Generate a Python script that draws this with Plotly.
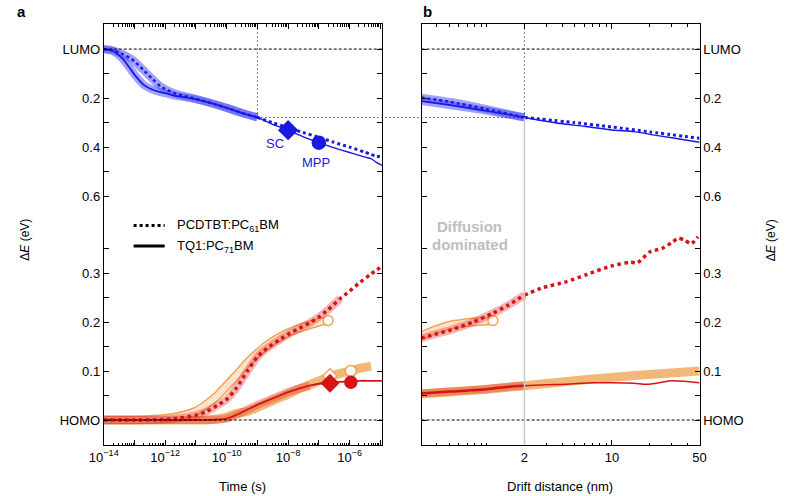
import math
import plotly.graph_objects as go

# ---------------- data ----------------
# Panel a: electrons (energy below LUMO), diffusion-dominated part (t <= 1 ns)
t_e_thick = [1e-14, 2e-14, 4e-14, 7e-14, 1e-13, 2e-13, 4e-13, 7e-13, 1e-12, 2e-12,
             4e-12, 1e-11, 3e-11, 1e-10, 3e-10, 1e-9]
dEe_pcdtbt_thick = [0.0, 0.005, 0.02, 0.036, 0.05, 0.087, 0.124, 0.152, 0.163, 0.180,
                    0.191, 0.203, 0.22, 0.24, 0.26, 0.279]
dEe_tq1_thick = [0.0, 0.008, 0.038, 0.077, 0.104, 0.146, 0.166, 0.176, 0.18, 0.19,
                 0.196, 0.205, 0.22, 0.24, 0.26, 0.279]
# Panel a: electrons, drift part (t >= 1 ns)
t_e_thin = [1e-9, 3e-9, 1e-8, 3e-8, 1e-7, 3e-7, 1e-6, 3e-6, 5e-6, 7e-6, 1.2e-5]
dEe_pcdtbt_thin = [0.279, 0.30, 0.32, 0.34, 0.36, 0.38, 0.40, 0.42, 0.43, 0.436, 0.442]
dEe_tq1_thin = [0.279, 0.306, 0.331, 0.357, 0.382, 0.402, 0.422, 0.44, 0.447, 0.46, 0.476]
t_e_sc, dEe_sc = 1e-8, 0.331
t_e_mpp, dEe_mpp = 1e-7, 0.382

# Panel a: holes (energy above HOMO)
t_h = [1e-14, 1e-13, 1e-12, 3e-12, 1e-11, 2e-11, 5e-11, 1e-10, 2e-10, 5e-10, 1e-9, 2e-9,
       5e-9, 1e-8, 2e-8, 5e-8, 1e-7, 2e-7, 5e-7, 1e-6, 2e-6, 5e-6, 1.2e-5]
dEh_pcdtbt = [0, 0, 0.001, 0.004, 0.01, 0.016, 0.03, 0.042, 0.064, 0.102, 0.129, 0.146,
              0.163, 0.175, 0.185, 0.198, 0.21, 0.225, 0.248, 0.263, 0.279, 0.298, 0.315]
dEh_tq1 = [0, 0, 0, 0, 0, 0, 0.001, 0.003, 0.01, 0.022, 0.031, 0.039, 0.049, 0.057, 0.063,
           0.07, 0.074, 0.076, 0.078, 0.078, 0.08, 0.08, 0.08]
dEh_pcdtbt_model = [0, 0, 0.003, 0.008, 0.018, 0.03, 0.05, 0.07, 0.09, 0.118, 0.136, 0.152,
                    0.168, 0.178, 0.186, 0.194, 0.2, 0.203]
dEh_tq1_model = [0, 0, 0, 0, 0, 0, 0.002, 0.006, 0.013, 0.018, 0.026, 0.034, 0.045, 0.053,
                 0.062, 0.072, 0.08, 0.088, 0.095, 0.1, 0.105, 0.11]
n_halo_pcdtbt = 19   # thick part of red dotted (up to 5e-7 s)
n_halo_tq1 = 16      # thick part of red solid (up to 5e-8 s)
t_h_sc, dEh_sc, dEh_sc_model = 2.3e-7, 0.075, 0.09
t_h_mpp, dEh_mpp, dEh_mpp_model = 1.1e-6, 0.077, 0.10

# Panel b: electrons vs drift distance (nm)
d_e_thick = [0.3, 0.5, 1, 2]
dEe_b_pcdtbt_thick = [0.198, 0.215, 0.245, 0.279]
dEe_b_tq1_thick = [0.212, 0.228, 0.252, 0.279]
d_e_pcdtbt_thin = [2, 5, 10, 20, 50]
dEe_b_pcdtbt_thin = [0.279, 0.30, 0.318, 0.338, 0.364]
d_e_tq1_thin = [2, 4, 6, 10, 15, 20, 30, 50]
dEe_b_tq1_thin = [0.279, 0.305, 0.315, 0.33, 0.337, 0.348, 0.362, 0.38]

# Panel b: holes vs drift distance (nm)
d_h_pcdtbt_thick = [0.3, 0.4, 0.52, 0.78, 1.12, 1.5, 2]
dEh_b_pcdtbt_thick = [0.167, 0.176, 0.184, 0.2, 0.218, 0.235, 0.255]
d_h_pcdtbt_thin = [2, 2.8, 4.3, 6.3, 9.8, 14, 16, 20, 25, 30, 34, 38, 43, 48.5]
dEh_b_pcdtbt_thin = [0.255, 0.27, 0.282, 0.297, 0.314, 0.322, 0.321, 0.343, 0.35, 0.362,
                     0.371, 0.367, 0.36, 0.374]
d_h_pcdtbt_model = [0.3, 0.4, 0.52, 0.78, 1.12]
dEh_b_pcdtbt_model = [0.172, 0.185, 0.194, 0.2, 0.203]
d_h_tq1_thick = [0.3, 0.5, 1, 1.5, 2]
dEh_b_tq1_thick = [0.054, 0.058, 0.063, 0.068, 0.07]
d_h_tq1_thin = [2, 3, 4.3, 7, 10, 15, 19, 25, 30, 38, 50]
dEh_b_tq1_thin = [0.07, 0.072, 0.073, 0.076, 0.076, 0.075, 0.073, 0.077, 0.08, 0.079, 0.076]
d_h_tq1_model = [0.3, 0.5, 1, 2, 5, 10, 20, 50]
dEh_b_tq1_model = [0.053, 0.057, 0.063, 0.07, 0.08, 0.087, 0.093, 0.1]

# axis ticks
e_tick_vals = [0.0, 0.2, 0.4, 0.6]
e_tick_text = ["LUMO", "0.2", "0.4", "0.6"]
e_minor = [0.1, 0.3, 0.5]
h_tick_vals = [0.0, 0.1, 0.2, 0.3]
h_tick_text = ["HOMO", "0.1", "0.2", "0.3"]
h_minor = [0.05, 0.15, 0.25, 0.35]
time_decades = [1e-14, 1e-13, 1e-12, 1e-11, 1e-10, 1e-9, 1e-8, 1e-7, 1e-6, 1e-5]
time_labels = ["10<sup>−14</sup>", " ", "10<sup>−12</sup>", " ", "10<sup>−10</sup>", " ",
               "10<sup>−8</sup>", " ", "10<sup>−6</sup>", " "]
dist_ticks = [2, 10, 50]
dist_labels = ["2", "10", "50"]
dist_minor = [0.4, 0.5, 0.6, 0.7, 0.8, 0.9, 1, 3, 4, 5, 6, 7, 8, 9, 20, 30, 40]

# ---------------- geometry / styling ----------------
W, H = 788, 496
PX_A = (91.3, 378.0)
PX_B = (418.3, 704.3)
PX_TOP, PX_BOT = 24.0, 445.0
LUMO_Y = 0.757          # broken axis: electron scale is half the hole scale
XR_A = [-14, -4.93]
XR_B = [-0.52, 1.70]
Y_RANGE = [-0.051, 0.8082]
FONT = "Liberation Sans, Arial, Helvetica, sans-serif"

BLUE = "rgb(25,25,225)"
BLUE_HALO = "rgba(70,70,250,0.5)"
RED = "rgb(215,20,20)"
RED_HALO = "rgba(225,40,40,0.35)"
ORANGE = "rgb(238,165,85)"
ORANGE_BAND = "rgba(238,160,75,0.75)"


def ye(vals):
    return [LUMO_Y - v / 2 for v in vals]


def px_paper_x(px):
    return px / W


def px_paper_y(px):
    return (H - px) / H


def frac(v, rng):
    return (math.log10(v) - rng[0]) / (rng[1] - rng[0])


fig = go.Figure()


def line(x, y, color, width, dash="solid", xa="x", ya="y"):
    fig.add_trace(go.Scatter(x=x, y=y, mode="lines", xaxis=xa, yaxis=ya,
                             line=dict(color=color, width=width, dash=dash, shape="spline",
                                       smoothing=0.6),
                             hoverinfo="skip", showlegend=False))


def marker(x, y, symbol, size, fill, edge, xa="x", ya="y", lw=1.5):
    fig.add_trace(go.Scatter(x=x, y=y, mode="markers", xaxis=xa, yaxis=ya,
                             marker=dict(symbol=symbol, size=size, color=fill,
                                         line=dict(color=edge, width=lw)),
                             hoverinfo="skip", showlegend=False))


# ---------- panel a ----------
# hole models (orange)
line(t_h[:len(dEh_tq1_model)], dEh_tq1_model, ORANGE_BAND, 9)
line(t_h[:len(dEh_pcdtbt_model)], dEh_pcdtbt_model, ORANGE, 9)
line(t_h[:len(dEh_pcdtbt_model)], dEh_pcdtbt_model, "rgba(255,255,255,0.7)", 6)
marker([t_h[len(dEh_pcdtbt_model) - 1]], [dEh_pcdtbt_model[-1]], "circle", 10, "white", ORANGE)
# holes (red)
line(t_h[:n_halo_tq1], dEh_tq1[:n_halo_tq1], RED_HALO, 8)
line(t_h[:n_halo_pcdtbt], dEh_pcdtbt[:n_halo_pcdtbt], RED_HALO, 8)
line(t_h, dEh_tq1, RED, 1.8)
line(t_h, dEh_pcdtbt, RED, 3.5, "dot")
marker([t_h_sc], [dEh_sc_model], "diamond", 11, "white", ORANGE)
marker([t_h_mpp], [dEh_mpp_model], "circle", 11, "white", ORANGE)
marker([t_h_sc], [dEh_sc], "diamond", 13, RED, RED)
marker([t_h_mpp], [dEh_mpp], "circle", 12, RED, RED)
# electrons (blue)
line(t_e_thick, ye(dEe_tq1_thick), BLUE_HALO, 8)
line(t_e_thick, ye(dEe_pcdtbt_thick), BLUE_HALO, 8)
line(t_e_thick, ye(dEe_tq1_thick), BLUE, 1.8)
line(t_e_thick, ye(dEe_pcdtbt_thick), BLUE, 2.5, "dot")
line(t_e_thin, ye(dEe_tq1_thin), BLUE, 1.4)
line(t_e_thin, ye(dEe_pcdtbt_thin), BLUE, 3, "dot")
marker([t_e_sc], ye([dEe_sc]), "diamond", 14, BLUE, BLUE)
marker([t_e_mpp], ye([dEe_mpp]), "circle", 13, BLUE, BLUE)

# ---------- panel b ----------
line(d_h_tq1_model, dEh_b_tq1_model, ORANGE_BAND, 9, xa="x2", ya="y2")
line(d_h_pcdtbt_model, dEh_b_pcdtbt_model, ORANGE, 9, xa="x2", ya="y2")
line(d_h_pcdtbt_model, dEh_b_pcdtbt_model, "rgba(255,255,255,0.7)", 6, xa="x2", ya="y2")
marker([d_h_pcdtbt_model[-1]], [dEh_b_pcdtbt_model[-1]], "circle", 10, "white", ORANGE,
       xa="x2", ya="y2")
line(d_h_tq1_thick, dEh_b_tq1_thick, RED_HALO, 8, xa="x2", ya="y2")
line(d_h_pcdtbt_thick, dEh_b_pcdtbt_thick, RED_HALO, 8, xa="x2", ya="y2")
line(d_h_tq1_thick, dEh_b_tq1_thick, RED, 2.5, xa="x2", ya="y2")
line(d_h_tq1_thin, dEh_b_tq1_thin, RED, 1.5, xa="x2", ya="y2")
line(d_h_pcdtbt_thick, dEh_b_pcdtbt_thick, RED, 3.5, "dot", xa="x2", ya="y2")
line(d_h_pcdtbt_thin, dEh_b_pcdtbt_thin, RED, 3.5, "dot", xa="x2", ya="y2")
line(d_e_thick, ye(dEe_b_tq1_thick), BLUE_HALO, 8, xa="x2", ya="y2")
line(d_e_thick, ye(dEe_b_pcdtbt_thick), BLUE_HALO, 8, xa="x2", ya="y2")
line(d_e_thick, ye(dEe_b_tq1_thick), BLUE, 1.8, xa="x2", ya="y2")
line(d_e_thick, ye(dEe_b_pcdtbt_thick), BLUE, 2.5, "dot", xa="x2", ya="y2")
line(d_e_tq1_thin, ye(dEe_b_tq1_thin), BLUE, 1.4, xa="x2", ya="y2")
line(d_e_pcdtbt_thin, ye(dEe_b_pcdtbt_thin), BLUE, 3, "dot", xa="x2", ya="y2")

# ---------------- axes ----------------
y_tickvals = ye(e_tick_vals) + h_tick_vals
y_ticktext = e_tick_text + h_tick_text
y_minor = ye(e_minor) + h_minor
tickfont = dict(family=FONT, size=13, color="black")
common_y = dict(range=Y_RANGE, tickmode="array", tickvals=y_tickvals, ticktext=y_ticktext,
                ticks="inside", ticklen=5, tickcolor="black", showline=True,
                linecolor="black", linewidth=1, mirror="allticks", showgrid=False,
                zeroline=False, tickfont=tickfont,
                minor=dict(tickmode="array", tickvals=y_minor, ticks="inside", ticklen=5,
                           tickcolor="black", showgrid=False),
                domain=[px_paper_y(PX_BOT), px_paper_y(PX_TOP)])
fig.update_layout(
    width=W, height=H, margin=dict(l=0, r=0, t=0, b=0),
    paper_bgcolor="white", plot_bgcolor="white", showlegend=False,
    font=dict(family=FONT, size=13, color="black"),
    xaxis=dict(type="log", range=XR_A, domain=[px_paper_x(PX_A[0]), px_paper_x(PX_A[1])],
               anchor="y", tickmode="array", tickvals=time_decades, ticktext=time_labels,
               ticks="inside", ticklen=5, tickcolor="black", showline=True, linecolor="black",
               mirror="allticks", showgrid=False, zeroline=False, tickfont=tickfont,
               minor=dict(tickmode="array",
                          tickvals=[m * d for d in time_decades[:-1] for m in range(2, 10)],
                          ticks="inside", ticklen=2.5, tickcolor="black", showgrid=False)),
    xaxis2=dict(type="log", range=XR_B, domain=[px_paper_x(PX_B[0]), px_paper_x(PX_B[1])],
                anchor="y2", tickmode="array", tickvals=dist_ticks, ticktext=dist_labels,
                ticks="inside", ticklen=5, tickcolor="black", showline=True, linecolor="black",
                mirror="allticks", showgrid=False, zeroline=False, tickfont=tickfont,
                minor=dict(tickmode="array", tickvals=dist_minor, ticks="inside", ticklen=2.5,
                           tickcolor="black", showgrid=False)),
    yaxis=dict(anchor="x", side="left", **common_y),
    yaxis2=dict(anchor="x2", side="right", **common_y),
)

# ---------------- guide lines ----------------
y_cross = ye([0.279])[0]
shapes = []
for xr, yr in (("x domain", "y"), ("x2 domain", "y2")):
    for yv in (LUMO_Y, 0.0):
        shapes.append(dict(type="line", xref=xr, yref=yr, x0=0, x1=1, y0=yv, y1=yv,
                           line=dict(color="black", width=1, dash="3px,2px")))
fa = frac(1e-9, XR_A)
fb = frac(2, XR_B)
xa_paper = px_paper_x(PX_A[0] + fa * (PX_A[1] - PX_A[0]))
xb_paper = px_paper_x(PX_B[0] + fb * (PX_B[1] - PX_B[0]))
shapes.append(dict(type="line", xref="x domain", yref="y", x0=fa, x1=fa, y0=y_cross,
                   y1=Y_RANGE[1], line=dict(color="black", width=1, dash="1px,3px")))
shapes.append(dict(type="line", xref="paper", yref="y", x0=xa_paper, x1=xb_paper,
                   y0=y_cross, y1=y_cross, line=dict(color="black", width=1, dash="1px,3px")))
shapes.append(dict(type="line", xref="x2 domain", yref="y2", x0=fb, x1=fb, y0=y_cross,
                   y1=Y_RANGE[1], line=dict(color="black", width=1, dash="1px,3px")))
shapes.append(dict(type="line", xref="x2 domain", yref="y2", x0=fb, x1=fb, y0=Y_RANGE[0],
                   y1=y_cross, line=dict(color="rgb(200,200,200)", width=1.5)))
# legend samples
shapes.append(dict(type="line", xref="paper", yref="paper", x0=px_paper_x(122),
                   x1=px_paper_x(154), y0=px_paper_y(225.5), y1=px_paper_y(225.5),
                   line=dict(color="black", width=3, dash="dot")))
shapes.append(dict(type="line", xref="paper", yref="paper", x0=px_paper_x(122),
                   x1=px_paper_x(154), y0=px_paper_y(246), y1=px_paper_y(246),
                   line=dict(color="black", width=3)))
fig.update_layout(shapes=shapes)

# ---------------- text ----------------
ann = []


def text(x, y, s, size=13, color="black", xanchor="center", angle=0, bold=False):
    if bold:
        s = "<b>" + s + "</b>"
    ann.append(dict(x=px_paper_x(x), y=px_paper_y(y), xref="paper", yref="paper", text=s,
                    showarrow=False, xanchor=xanchor, yanchor="middle", textangle=angle,
                    font=dict(family=FONT, size=size, color=color)))


text(7, 11, "a", 15, bold=True)
text(424, 11, "b", 15, bold=True)
text(165, 225, "PCDTBT:PC<sub>61</sub>BM", 13, xanchor="left")
text(165, 246, "TQ1:PC<sub>71</sub>BM", 13, xanchor="left")
text(267, 143, "SC", 13, BLUE)
text(310, 162, "MPP", 13, BLUE)
text(468, 226, "Diffusion", 15, "rgb(190,190,190)", bold=True)
text(468, 245, "dominated", 15, "rgb(190,190,190)", bold=True)
text(234.5, 486, "Time (s)", 13)
text(561, 486, "Drift distance (nm)", 13)
text(10, 240, "Δ<i>E</i> (eV)", 12, angle=-90)
text(778, 240, "Δ<i>E</i> (eV)", 12, angle=-90)
fig.update_layout(annotations=ann)

fig.write_html("out.html", config={"displayModeBar": False},
               post_script="document.body.style.margin='0';"
                           "document.body.style.overflow='hidden';")
